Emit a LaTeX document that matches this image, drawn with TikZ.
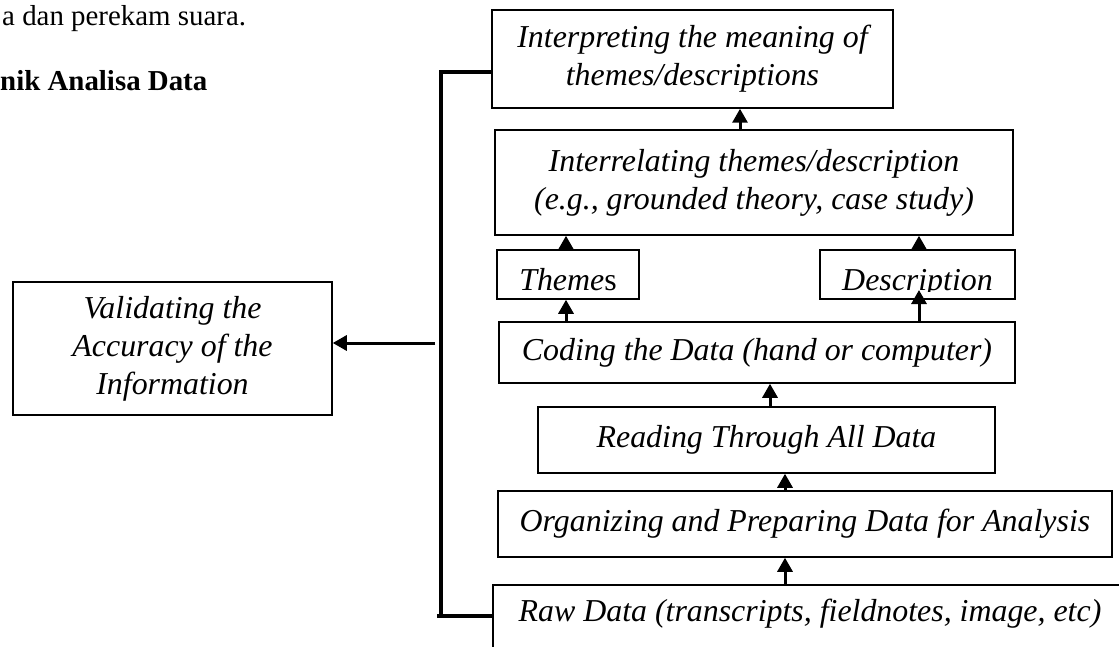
\documentclass[tikz,border=0pt]{standalone}
\usepackage{fontspec}
\setmainfont{Liberation Serif}
\usetikzlibrary{arrows.meta}
\newcommand{\bodysize}{\fontsize{32}{38}\selectfont}
\newcommand{\pagesize}{\fontsize{29}{34}\selectfont}
\begin{document}
\begin{tikzpicture}[x=1bp,y=-1bp,
  box/.style={draw, line width=1.5bp, rectangle, inner sep=0pt, align=center,
    font=\bodysize\itshape},
  single/.style={text height=22bp, text depth=7bp},
  arr/.style={line width=3bp, -{Triangle[width=15bp,length=14bp]}},
  bracket/.style={line width=3.5bp},
  plain/.style={inner sep=0pt, font=\bodysize}]

\useasboundingbox (0,0) rectangle (1119,647);
\clip (0,0) rectangle (1119,647);

% running text of the page
\node[plain, font=\pagesize, anchor=base west] (line1) at (2,26) {a dan perekam suara.};
\node[plain, font=\pagesize\bfseries, anchor=base west] (line2) at (0,91) {nik Analisa Data};

% analysis steps
\node[box, minimum width=401bp, minimum height=98bp] (interp) at (692.5,59)
  {Interpreting the meaning of\\themes/descriptions};
\node[box, minimum width=518bp, minimum height=105bp] (relate) at (754,182.5)
  {Interrelating themes/description\\(e.g., grounded theory, case study)};
\node[box, single, text height=38bp, minimum width=142bp, minimum height=49bp] (themes) at (568,274.5)
  {Theme\textup{s}};
\node[box, minimum width=195bp, minimum height=49bp] (desc) at (917.5,274.5) {};
\begin{scope}
  \clip (desc.north west) rectangle ([yshift=8bp]desc.south east);
  \node[plain, font=\bodysize\itshape, anchor=base] (desctext) at ([yshift=9bp]desc.south) {Description};
\end{scope}
\node[box, single, minimum width=516bp, minimum height=61bp] (code) at (757,352.5)
  {Coding the Data (hand or computer)};
\node[box, single, minimum width=457bp, minimum height=66bp] (read) at (766.5,440)
  {Reading Through All Data};
\node[box, single, minimum width=614bp, minimum height=66bp] (org) at (805,524)
  {Organizing and Preparing Data for Analysis};
\node[box, single, text depth=22bp, minimum width=634bp, minimum height=72bp] (raw) at (810,621)
  {Raw Data (transcripts, fieldnotes, image, etc)};
\node[box, minimum width=319bp, minimum height=133bp] (valid) at (172.5,348.5)
  {Validating the\\Accuracy of the\\Information};

% upward flow
\draw[arr] (740,0 |- relate.north) -- (740,0 |- interp.south);
\draw[arr] (566,0 |- themes.north) -- (566,0 |- relate.south);
\draw[arr] (919,0 |- desc.north) -- (919,0 |- relate.south);
\draw[arr] (566,0 |- code.north) -- (566,0 |- themes.south);
\coordinate (desctip) at (919,290);
\draw[arr] (desctip |- code.north) -- (desctip);
\draw[arr] (770,0 |- read.north) -- (770,0 |- code.south);
\draw[arr] (785,0 |- org.north) -- (785,0 |- read.south);
\draw[arr] (785,0 |- raw.north) -- (785,0 |- org.south);

% validation bracket
\coordinate (bx) at (441,0);
\draw[bracket] (interp.west |- 0,72) -- (bx |- 0,72) -- (bx |- 0,616);
\draw[bracket] (437,616) -- (raw.west |- 0,616);
\coordinate (vstart) at (435,343);
\draw[arr] (vstart) -- (valid.east |- vstart);
\end{tikzpicture}
\end{document}
